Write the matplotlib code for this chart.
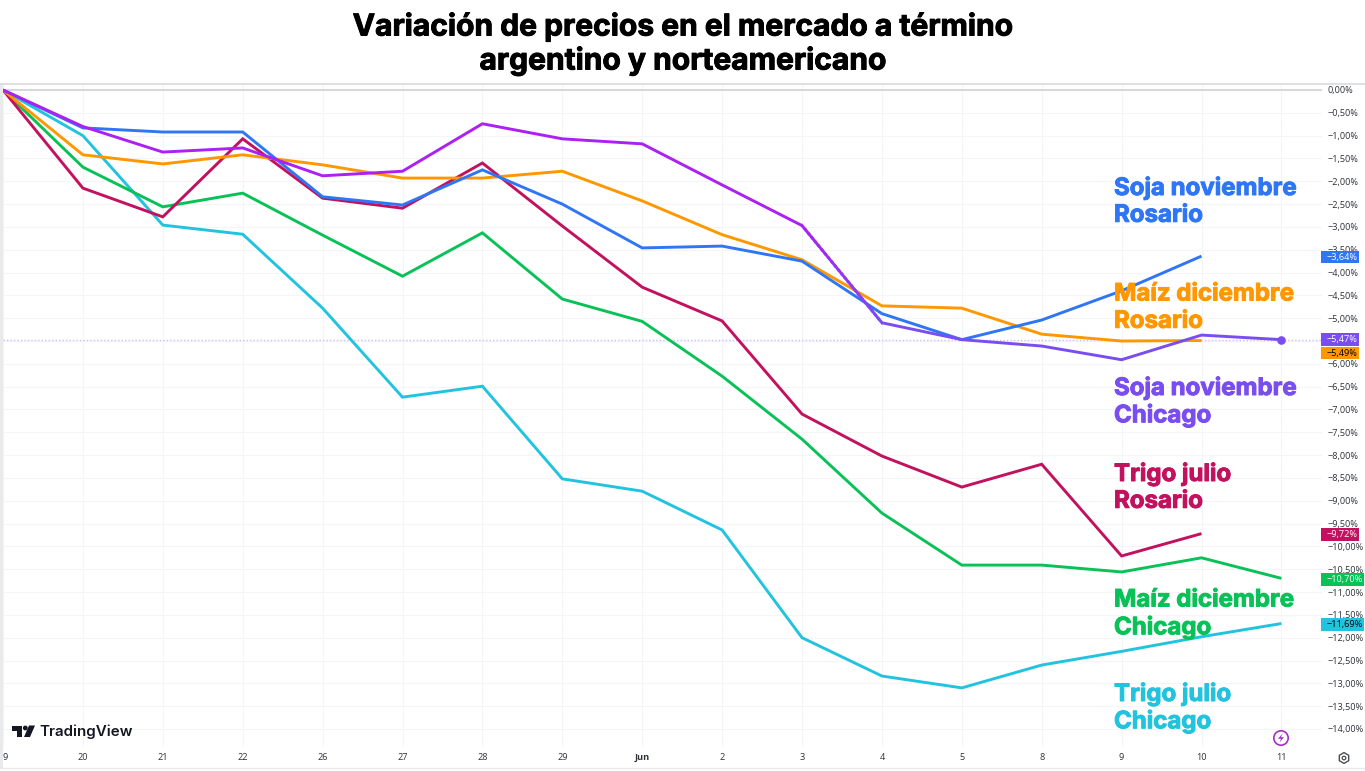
import numpy as np
import matplotlib
matplotlib.use("Agg")
import matplotlib.pyplot as plt
import matplotlib.patheffects as pe
from matplotlib.collections import LineCollection
from matplotlib.colors import to_rgb
from matplotlib.patches import Circle, Polygon, Rectangle, RegularPolygon

# Session labels along the time axis
sessions = ["9", "20", "21", "22", "26", "27", "28", "29", "Jun", "2", "3",
            "4", "5", "8", "9", "10", "11"]

# Cumulative price change, in percent
soja_rosario = [0, -0.83, -0.92, -0.92, -2.34, -2.52, -1.75, -2.50, -3.46, -3.42,
                -3.75, -4.90, -5.47, -5.04, -4.40, -3.64]
maiz_rosario = [0, -1.42, -1.62, -1.42, -1.64, -1.93, -1.93, -1.78, -2.43, -3.17,
                -3.72, -4.73, -4.78, -5.35, -5.50, -5.49]
trigo_rosario = [0, -2.15, -2.78, -1.07, -2.37, -2.59, -1.60, -2.98, -4.32, -5.06,
                 -7.10, -8.02, -8.70, -8.20, -10.21, -9.72]
soja_chicago = [0, -0.80, -1.36, -1.27, -1.88, -1.78, -0.74, -1.07, -1.18, -2.08,
                -2.97, -5.10, -5.47, -5.61, -5.91, -5.37, -5.47]
maiz_chicago = [0, -1.69, -2.56, -2.26, -3.18, -4.08, -3.13, -4.58, -5.07, -6.27,
                -7.65, -9.27, -10.41, -10.41, -10.56, -10.25, -10.70]
trigo_chicago = [0, -1.00, -2.96, -3.16, -4.78, -6.73, -6.49, -8.52, -8.79, -9.64,
                 -12.00, -12.84, -13.10, -12.60, -12.30, -11.98, -11.69]

BLUE = "#2f76f6"
ORANGE = "#ff9800"
CRIMSON = "#c2115e"
VIOLET_A = "#ab20f2"
VIOLET_B = "#7a4df0"
GREEN = "#08c257"
CYAN = "#22c3de"
TICK = "#2e3138"
GRID = "#f4f5f7"

W, H = 1365, 771
LEFT, RIGHT, TOP, BOTTOM = 3, 1322, 84, 747
STEP = 79.9
PX_PER_PCT = 45.64
ZERO_Y = 90

fig = plt.figure(figsize=(W / 100, H / 100), dpi=100, facecolor="white")
ax = fig.add_axes([LEFT / W, 1 - BOTTOM / H, (RIGHT - LEFT) / W, (BOTTOM - TOP) / H])
ax.set_xlim(0, (RIGHT - LEFT) / STEP)
ax.set_ylim((ZERO_Y - BOTTOM) / PX_PER_PCT, (ZERO_Y - TOP) / PX_PER_PCT)

ax.set_xticks(range(len(sessions)))
ax.set_xticklabels([])
yticks = np.arange(0, -14.01, -0.5)
ax.set_yticks(yticks)
ax.set_yticklabels([f"{abs(v):.2f}%".replace(".", ",") if v == 0
                    else "\u2212" + f"{abs(v):.2f}%".replace(".", ",") for v in yticks])
ax.yaxis.tick_right()
ax.tick_params(axis="both", length=0)
ax.tick_params(axis="y", pad=4, labelsize=6.6, labelcolor=TICK)
for lab in ax.get_yticklabels():
    lab.set_fontfamily("Open Sans")
ax.grid(True, color=GRID, lw=0.8)
ax.set_axisbelow(True)
for s in ax.spines.values():
    s.set_visible(False)

ax.axhline(0, color="#d4d5d8", lw=1.3, zorder=1)
ax.axhline(soja_chicago[-1], color="#cdbcfa", lw=1.0, ls=(0, (1, 1.5)), zorder=1)

LW = 2.1
line_kw = dict(lw=LW, solid_joinstyle="miter", solid_capstyle="butt")
for series, col, z in [(trigo_chicago, CYAN, 3), (maiz_chicago, GREEN, 3.1),
                       (trigo_rosario, CRIMSON, 3.2), (maiz_rosario, ORANGE, 3.3),
                       (soja_rosario, BLUE, 3.4)]:
    ax.plot(range(len(series)), series, color=col, zorder=z, **line_kw)

# The Chicago soybean line shifts hue between the 3 and 4 sessions
xs = np.arange(len(soja_chicago), dtype=float)
ys = np.array(soja_chicago)
ax.plot(xs[:11], ys[:11], color=VIOLET_A, zorder=3.5, **line_kw)
ax.plot(xs[11:], ys[11:], color=VIOLET_B, zorder=3.5, **line_kw)
t = np.linspace(0, 1, 25)
px = xs[10] + t * (xs[11] - xs[10])
py = ys[10] + t * (ys[11] - ys[10])
segs = np.stack([np.c_[px[:-1], py[:-1]], np.c_[px[1:], py[1:]]], axis=1)
ca, cb = np.array(to_rgb(VIOLET_A)), np.array(to_rgb(VIOLET_B))
ax.add_collection(LineCollection(segs, colors=[ca + (cb - ca) * f for f in t[:-1]],
                                 linewidths=LW, zorder=3.5, capstyle="projecting"))
ax.plot(xs[-1], ys[-1], "o", color=VIOLET_B, ms=6.2, mec="none", zorder=4, clip_on=False)

# Pixel-space overlay for the title, series names, value tags and chart furniture
ov = fig.add_axes([0, 0, 1, 1], facecolor="none")
ov.set_xlim(0, W)
ov.set_ylim(H, 0)
ov.axis("off")

ov.add_patch(Rectangle((0, 84), 3, 684, fc="#e9eaec", ec="none"))
ov.plot([0, W], [84, 84], color="#d6d7da", lw=1.1)
ov.plot([0, W], [768, 768], color="#e8e9eb", lw=1.0)

HEAD = "Inter"


def heavy(col, width):
    # Thickens the bold face with an outline in its own colour
    return [pe.withStroke(linewidth=width, foreground=col)]


for y, line in [(26.5, "Variación de precios en el mercado a término"),
                (60.5, "argentino y norteamericano")]:
    ov.text(683, y, line, ha="center", va="center", family=HEAD, weight="bold",
            fontsize=21.6, color="black", path_effects=heavy("black", 0.7))

series_names = [("Soja noviembre", "Rosario", 188.5, BLUE),
                ("Maíz diciembre", "Rosario", 294.5, ORANGE),
                ("Soja noviembre", "Chicago", 388.5, VIOLET_B),
                ("Trigo julio", "Rosario", 474.5, CRIMSON),
                ("Maíz diciembre", "Chicago", 600.5, GREEN),
                ("Trigo julio", "Chicago", 694.5, CYAN)]
for first, second, y, col in series_names:
    for k, txt in enumerate((first, second)):
        ov.text(1114, y + k * 27.3, txt, ha="left", va="center", family=HEAD,
                weight="bold", fontsize=17.3, color=col, zorder=6,
                path_effects=heavy(col, 0.7))

for i, lab in enumerate(sessions):
    ov.text(5 if i == 0 else LEFT + i * STEP, 757, lab, ha="center", va="center",
            family="Open Sans", fontsize=6.6, color=TICK,
            weight="bold" if lab == "Jun" else "normal")

# Last-value tags on the price scale
tags = [(soja_rosario[-1], BLUE, "white", 38, 1),
        (soja_chicago[-1], VIOLET_B, "white", 38, 0),
        (maiz_rosario[-1], ORANGE, "black", 38, 12.5),
        (trigo_rosario[-1], CRIMSON, "white", 38, 1),
        (maiz_chicago[-1], GREEN, "white", 43, 1),
        (trigo_chicago[-1], CYAN, "black", 43, 1)]
for value, col, tcol, width, shift in tags:
    y = ZERO_Y - value * PX_PER_PCT + shift
    ov.add_patch(Rectangle((RIGHT - 1, y - 6.3), width, 12.6, fc=col, ec="none", zorder=7))
    ov.text(RIGHT + 5, y, "\u2212" + f"{abs(value):.2f}%".replace(".", ","), ha="left",
            va="center", family="Open Sans", fontsize=6.6, color=tcol, zorder=8)

# TradingView mark and wordmark
INK = "#131722"
ov.add_patch(Polygon([(12, 725.5), (22, 725.5), (22, 737), (17, 737), (17, 731), (12, 731)],
                     fc=INK, ec="none"))
ov.add_patch(Circle((25.3, 728), 2.4, fc=INK, ec="none"))
ov.add_patch(Polygon([(29, 725.5), (35, 725.5), (30, 737), (24, 737)], fc=INK, ec="none"))
ov.text(39, 731.5, "TradingView", ha="left", va="center", family="Inter", weight="semibold",
        fontsize=10.9, color=INK)

# Bolt badge and settings cog
ov.add_patch(Circle((1281, 738), 7.2, fc="white", ec="#a52fc4", lw=1.2))
ov.add_patch(Polygon([(1282.5, 733.5), (1278, 738.8), (1281, 738.8), (1279.5, 742.5),
                      (1284, 737.2), (1281, 737.2)], fc="#a52fc4", ec="none"))
ov.add_patch(RegularPolygon((1344, 758), 6, radius=5.4, fc="none", ec="#4a4d55", lw=1.0))
ov.add_patch(Circle((1344, 758), 1.8, fc="none", ec="#4a4d55", lw=0.9))

fig.savefig("out.png", dpi=100)
